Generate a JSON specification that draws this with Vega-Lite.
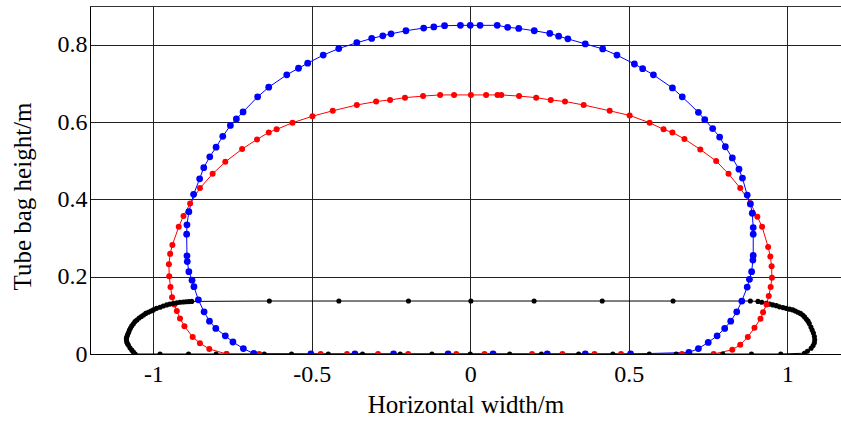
{
  "$schema": "https://vega.github.io/schema/vega-lite/v6.json",
  "width": 751,
  "height": 348,
  "padding": {"left": 90, "top": 6, "right": 0, "bottom": 67},
  "autosize": {"type": "none"},
  "background": "white",
  "config": {
    "view": {"stroke": "#333", "strokeWidth": 1},
    "axis": {
      "labelFont": "Liberation Serif",
      "titleFont": "Liberation Serif",
      "labelFontSize": 24,
      "titleFontSize": 25,
      "titleFontWeight": "normal",
      "labelColor": "#000",
      "titleColor": "#000",
      "domainColor": "#000",
      "gridColor": "#222",
      "gridWidth": 1,
      "gridOpacity": 1,
      "ticks": false
    }
  },
  "data": {"values": [
    {"s":"black","i":1,"x":-1.058,"y":0},
    {"s":"black","i":2,"x":-0.979,"y":0},
    {"s":"black","i":3,"x":-0.889,"y":0},
    {"s":"black","i":4,"x":-0.802,"y":0},
    {"s":"black","i":5,"x":-0.650,"y":0},
    {"s":"black","i":6,"x":-0.564,"y":0},
    {"s":"black","i":7,"x":-0.448,"y":0},
    {"s":"black","i":8,"x":-0.340,"y":0},
    {"s":"black","i":9,"x":-0.221,"y":0},
    {"s":"black","i":10,"x":-0.121,"y":0},
    {"s":"black","i":11,"x":0.0,"y":0},
    {"s":"black","i":12,"x":0.1245,"y":0},
    {"s":"black","i":13,"x":0.2245,"y":0},
    {"s":"black","i":14,"x":0.342,"y":0},
    {"s":"black","i":15,"x":0.450,"y":0},
    {"s":"black","i":16,"x":0.565,"y":0},
    {"s":"black","i":17,"x":0.650,"y":0},
    {"s":"black","i":18,"x":0.797,"y":0},
    {"s":"black","i":19,"x":0.8875,"y":0},
    {"s":"black","i":20,"x":0.980,"y":0},
    {"s":"black","i":21,"x":1.0545,"y":0.002},
    {"s":"black","i":22,"x":1.064,"y":0.007},
    {"s":"black","i":23,"x":1.0757,"y":0.0147},
    {"s":"black","i":24,"x":1.082,"y":0.022},
    {"s":"black","i":25,"x":1.086,"y":0.029},
    {"s":"black","i":26,"x":1.087,"y":0.037},
    {"s":"black","i":27,"x":1.086,"y":0.045},
    {"s":"black","i":28,"x":1.083,"y":0.054},
    {"s":"black","i":29,"x":1.079,"y":0.062},
    {"s":"black","i":30,"x":1.075,"y":0.070},
    {"s":"black","i":31,"x":1.070,"y":0.079},
    {"s":"black","i":32,"x":1.066,"y":0.085},
    {"s":"black","i":33,"x":1.061,"y":0.090},
    {"s":"black","i":34,"x":1.055,"y":0.096},
    {"s":"black","i":35,"x":1.049,"y":0.101},
    {"s":"black","i":36,"x":1.042,"y":0.105},
    {"s":"black","i":37,"x":1.034,"y":0.108},
    {"s":"black","i":38,"x":1.026,"y":0.111},
    {"s":"black","i":39,"x":1.018,"y":0.114},
    {"s":"black","i":40,"x":1.008,"y":0.116},
    {"s":"black","i":41,"x":0.997,"y":0.118},
    {"s":"black","i":42,"x":0.987,"y":0.120},
    {"s":"black","i":43,"x":0.976,"y":0.122},
    {"s":"black","i":44,"x":0.966,"y":0.125},
    {"s":"black","i":45,"x":0.955,"y":0.127},
    {"s":"black","i":46,"x":0.945,"y":0.129},
    {"s":"black","i":47,"x":0.934,"y":0.131},
    {"s":"black","i":48,"x":0.920,"y":0.134},
    {"s":"black","i":49,"x":0.908,"y":0.136},
    {"s":"black","i":50,"x":0.884,"y":0.137},
    {"s":"black","i":51,"x":0.640,"y":0.137},
    {"s":"black","i":52,"x":0.4165,"y":0.137},
    {"s":"black","i":53,"x":0.2015,"y":0.137},
    {"s":"black","i":54,"x":0.002,"y":0.137},
    {"s":"black","i":55,"x":-0.195,"y":0.137},
    {"s":"black","i":56,"x":-0.4146,"y":0.137},
    {"s":"black","i":57,"x":-0.634,"y":0.137},
    {"s":"black","i":58,"x":-0.879,"y":0.136},
    {"s":"black","i":59,"x":-0.888,"y":0.1355},
    {"s":"black","i":60,"x":-0.897,"y":0.135},
    {"s":"black","i":61,"x":-0.906,"y":0.1345},
    {"s":"black","i":62,"x":-0.916,"y":0.134},
    {"s":"black","i":63,"x":-0.926,"y":0.1325},
    {"s":"black","i":64,"x":-0.937,"y":0.131},
    {"s":"black","i":65,"x":-0.948,"y":0.129},
    {"s":"black","i":66,"x":-0.958,"y":0.127},
    {"s":"black","i":67,"x":-0.969,"y":0.124},
    {"s":"black","i":68,"x":-0.979,"y":0.121},
    {"s":"black","i":69,"x":-0.990,"y":0.118},
    {"s":"black","i":70,"x":-1.0,"y":0.114},
    {"s":"black","i":71,"x":-1.008,"y":0.111},
    {"s":"black","i":72,"x":-1.016,"y":0.108},
    {"s":"black","i":73,"x":-1.024,"y":0.105},
    {"s":"black","i":74,"x":-1.031,"y":0.101},
    {"s":"black","i":75,"x":-1.038,"y":0.097},
    {"s":"black","i":76,"x":-1.045,"y":0.093},
    {"s":"black","i":77,"x":-1.052,"y":0.088},
    {"s":"black","i":78,"x":-1.058,"y":0.084},
    {"s":"black","i":79,"x":-1.063,"y":0.078},
    {"s":"black","i":80,"x":-1.068,"y":0.073},
    {"s":"black","i":81,"x":-1.072,"y":0.067},
    {"s":"black","i":82,"x":-1.0755,"y":0.062},
    {"s":"black","i":83,"x":-1.078,"y":0.056},
    {"s":"black","i":84,"x":-1.081,"y":0.051},
    {"s":"black","i":85,"x":-1.083,"y":0.046},
    {"s":"black","i":86,"x":-1.085,"y":0.041},
    {"s":"black","i":87,"x":-1.085,"y":0.036},
    {"s":"black","i":88,"x":-1.084,"y":0.031},
    {"s":"black","i":89,"x":-1.082,"y":0.027},
    {"s":"black","i":90,"x":-1.079,"y":0.023},
    {"s":"black","i":91,"x":-1.074,"y":0.016},
    {"s":"black","i":92,"x":-1.068,"y":0.010},
    {"s":"black","i":93,"x":-1.063,"y":0.005},
    {"s":"black","i":94,"x":-1.058,"y":0},

    {"s":"red","i":1,"x":-0.769,"y":0},
    {"s":"red","i":2,"x":-0.8235,"y":0.013},
    {"s":"red","i":3,"x":-0.853,"y":0.028},
    {"s":"red","i":4,"x":-0.876,"y":0.044},
    {"s":"red","i":5,"x":-0.902,"y":0.072},
    {"s":"red","i":6,"x":-0.916,"y":0.092},
    {"s":"red","i":7,"x":-0.926,"y":0.111},
    {"s":"red","i":8,"x":-0.934,"y":0.128},
    {"s":"red","i":9,"x":-0.941,"y":0.147},
    {"s":"red","i":10,"x":-0.946,"y":0.173},
    {"s":"red","i":11,"x":-0.950,"y":0.201},
    {"s":"red","i":12,"x":-0.951,"y":0.232},
    {"s":"red","i":13,"x":-0.947,"y":0.259},
    {"s":"red","i":14,"x":-0.940,"y":0.282},
    {"s":"red","i":15,"x":-0.920,"y":0.329},
    {"s":"red","i":16,"x":-0.905,"y":0.357},
    {"s":"red","i":17,"x":-0.884,"y":0.389},
    {"s":"red","i":18,"x":-0.853,"y":0.429},
    {"s":"red","i":19,"x":-0.813,"y":0.466},
    {"s":"red","i":20,"x":-0.773,"y":0.497},
    {"s":"red","i":21,"x":-0.720,"y":0.530},
    {"s":"red","i":22,"x":-0.673,"y":0.555},
    {"s":"red","i":23,"x":-0.636,"y":0.573},
    {"s":"red","i":24,"x":-0.611,"y":0.581},
    {"s":"red","i":25,"x":-0.561,"y":0.598},
    {"s":"red","i":26,"x":-0.498,"y":0.615},
    {"s":"red","i":27,"x":-0.434,"y":0.629},
    {"s":"red","i":28,"x":-0.358,"y":0.644},
    {"s":"red","i":29,"x":-0.297,"y":0.653},
    {"s":"red","i":30,"x":-0.253,"y":0.657},
    {"s":"red","i":31,"x":-0.206,"y":0.663},
    {"s":"red","i":32,"x":-0.149,"y":0.667},
    {"s":"red","i":33,"x":-0.095,"y":0.670},
    {"s":"red","i":34,"x":-0.051,"y":0.670},
    {"s":"red","i":35,"x":0.002,"y":0.670},
    {"s":"red","i":36,"x":0.050,"y":0.670},
    {"s":"red","i":37,"x":0.086,"y":0.670},
    {"s":"red","i":38,"x":0.098,"y":0.670},
    {"s":"red","i":39,"x":0.154,"y":0.667},
    {"s":"red","i":40,"x":0.208,"y":0.663},
    {"s":"red","i":41,"x":0.254,"y":0.657},
    {"s":"red","i":42,"x":0.299,"y":0.653},
    {"s":"red","i":43,"x":0.358,"y":0.644},
    {"s":"red","i":44,"x":0.440,"y":0.629},
    {"s":"red","i":45,"x":0.503,"y":0.617},
    {"s":"red","i":46,"x":0.566,"y":0.598},
    {"s":"red","i":47,"x":0.610,"y":0.581},
    {"s":"red","i":48,"x":0.638,"y":0.573},
    {"s":"red","i":49,"x":0.676,"y":0.556},
    {"s":"red","i":50,"x":0.726,"y":0.529},
    {"s":"red","i":51,"x":0.776,"y":0.499},
    {"s":"red","i":52,"x":0.815,"y":0.466},
    {"s":"red","i":53,"x":0.852,"y":0.429},
    {"s":"red","i":54,"x":0.884,"y":0.390},
    {"s":"red","i":55,"x":0.906,"y":0.355},
    {"s":"red","i":56,"x":0.921,"y":0.329},
    {"s":"red","i":57,"x":0.940,"y":0.277},
    {"s":"red","i":58,"x":0.947,"y":0.252},
    {"s":"red","i":59,"x":0.951,"y":0.227},
    {"s":"red","i":60,"x":0.952,"y":0.197},
    {"s":"red","i":61,"x":0.948,"y":0.173},
    {"s":"red","i":62,"x":0.942,"y":0.150},
    {"s":"red","i":63,"x":0.935,"y":0.128},
    {"s":"red","i":64,"x":0.924,"y":0.108},
    {"s":"red","i":65,"x":0.916,"y":0.091},
    {"s":"red","i":66,"x":0.897,"y":0.068},
    {"s":"red","i":67,"x":0.876,"y":0.044},
    {"s":"red","i":68,"x":0.852,"y":0.024},
    {"s":"red","i":69,"x":0.827,"y":0.011},
    {"s":"red","i":70,"x":0.768,"y":0},
    {"s":"red","i":71,"x":0.668,"y":0},
    {"s":"red","i":72,"x":0.476,"y":0},
    {"s":"red","i":73,"x":0.392,"y":0},
    {"s":"red","i":74,"x":0.291,"y":0},
    {"s":"red","i":75,"x":0.195,"y":0},
    {"s":"red","i":76,"x":0.045,"y":0},
    {"s":"red","i":77,"x":-0.044,"y":0},
    {"s":"red","i":78,"x":-0.196,"y":0},
    {"s":"red","i":79,"x":-0.291,"y":0},
    {"s":"red","i":80,"x":-0.389,"y":0},
    {"s":"red","i":81,"x":-0.472,"y":0},
    {"s":"red","i":82,"x":-0.666,"y":0},
    {"s":"red","i":83,"x":-0.769,"y":0},

    {"s":"blue","i":1,"x":-0.683,"y":0.001},
    {"s":"blue","i":2,"x":-0.716,"y":0.014},
    {"s":"blue","i":3,"x":-0.749,"y":0.031},
    {"s":"blue","i":4,"x":-0.773,"y":0.047},
    {"s":"blue","i":5,"x":-0.803,"y":0.066},
    {"s":"blue","i":6,"x":-0.823,"y":0.085},
    {"s":"blue","i":7,"x":-0.840,"y":0.109},
    {"s":"blue","i":8,"x":-0.858,"y":0.140},
    {"s":"blue","i":9,"x":-0.872,"y":0.174},
    {"s":"blue","i":10,"x":-0.878,"y":0.191},
    {"s":"blue","i":11,"x":-0.888,"y":0.213},
    {"s":"blue","i":12,"x":-0.893,"y":0.239},
    {"s":"blue","i":13,"x":-0.894,"y":0.254},
    {"s":"blue","i":14,"x":-0.895,"y":0.310},
    {"s":"blue","i":15,"x":-0.894,"y":0.334},
    {"s":"blue","i":16,"x":-0.888,"y":0.368},
    {"s":"blue","i":17,"x":-0.873,"y":0.413},
    {"s":"blue","i":18,"x":-0.854,"y":0.453},
    {"s":"blue","i":19,"x":-0.841,"y":0.482},
    {"s":"blue","i":20,"x":-0.822,"y":0.510},
    {"s":"blue","i":21,"x":-0.802,"y":0.535},
    {"s":"blue","i":22,"x":-0.781,"y":0.563},
    {"s":"blue","i":23,"x":-0.757,"y":0.591},
    {"s":"blue","i":24,"x":-0.738,"y":0.608},
    {"s":"blue","i":25,"x":-0.717,"y":0.626},
    {"s":"blue","i":26,"x":-0.671,"y":0.665},
    {"s":"blue","i":27,"x":-0.636,"y":0.690},
    {"s":"blue","i":28,"x":-0.579,"y":0.722},
    {"s":"blue","i":29,"x":-0.542,"y":0.739},
    {"s":"blue","i":30,"x":-0.513,"y":0.752},
    {"s":"blue","i":31,"x":-0.464,"y":0.773},
    {"s":"blue","i":32,"x":-0.415,"y":0.790},
    {"s":"blue","i":33,"x":-0.358,"y":0.805},
    {"s":"blue","i":34,"x":-0.311,"y":0.816},
    {"s":"blue","i":35,"x":-0.276,"y":0.823},
    {"s":"blue","i":36,"x":-0.250,"y":0.828},
    {"s":"blue","i":37,"x":-0.203,"y":0.836},
    {"s":"blue","i":38,"x":-0.147,"y":0.843},
    {"s":"blue","i":39,"x":-0.115,"y":0.846},
    {"s":"blue","i":40,"x":-0.081,"y":0.849},
    {"s":"blue","i":41,"x":-0.031,"y":0.850},
    {"s":"blue","i":42,"x":0.000,"y":0.850},
    {"s":"blue","i":43,"x":0.031,"y":0.850},
    {"s":"blue","i":44,"x":0.085,"y":0.850},
    {"s":"blue","i":45,"x":0.118,"y":0.845},
    {"s":"blue","i":46,"x":0.153,"y":0.842},
    {"s":"blue","i":47,"x":0.202,"y":0.836},
    {"s":"blue","i":48,"x":0.251,"y":0.829},
    {"s":"blue","i":49,"x":0.279,"y":0.822},
    {"s":"blue","i":50,"x":0.308,"y":0.815},
    {"s":"blue","i":51,"x":0.363,"y":0.802},
    {"s":"blue","i":52,"x":0.418,"y":0.789},
    {"s":"blue","i":53,"x":0.463,"y":0.773},
    {"s":"blue","i":54,"x":0.518,"y":0.750},
    {"s":"blue","i":55,"x":0.544,"y":0.738},
    {"s":"blue","i":56,"x":0.578,"y":0.722},
    {"s":"blue","i":57,"x":0.638,"y":0.688},
    {"s":"blue","i":58,"x":0.669,"y":0.665},
    {"s":"blue","i":59,"x":0.720,"y":0.625},
    {"s":"blue","i":60,"x":0.740,"y":0.606},
    {"s":"blue","i":61,"x":0.765,"y":0.583},
    {"s":"blue","i":62,"x":0.787,"y":0.561},
    {"s":"blue","i":63,"x":0.805,"y":0.536},
    {"s":"blue","i":64,"x":0.827,"y":0.507},
    {"s":"blue","i":65,"x":0.848,"y":0.478},
    {"s":"blue","i":66,"x":0.859,"y":0.455},
    {"s":"blue","i":67,"x":0.874,"y":0.411},
    {"s":"blue","i":68,"x":0.884,"y":0.388},
    {"s":"blue","i":69,"x":0.890,"y":0.364},
    {"s":"blue","i":70,"x":0.893,"y":0.327},
    {"s":"blue","i":71,"x":0.893,"y":0.310},
    {"s":"blue","i":72,"x":0.893,"y":0.255},
    {"s":"blue","i":73,"x":0.892,"y":0.243},
    {"s":"blue","i":74,"x":0.888,"y":0.213},
    {"s":"blue","i":75,"x":0.881,"y":0.193},
    {"s":"blue","i":76,"x":0.874,"y":0.173},
    {"s":"blue","i":77,"x":0.857,"y":0.137},
    {"s":"blue","i":78,"x":0.841,"y":0.109},
    {"s":"blue","i":79,"x":0.822,"y":0.085},
    {"s":"blue","i":80,"x":0.803,"y":0.066},
    {"s":"blue","i":81,"x":0.779,"y":0.047},
    {"s":"blue","i":82,"x":0.751,"y":0.030},
    {"s":"blue","i":83,"x":0.720,"y":0.014},
    {"s":"blue","i":84,"x":0.690,"y":0.004},
    {"s":"blue","i":85,"x":0.506,"y":0},
    {"s":"blue","i":86,"x":0.363,"y":0},
    {"s":"blue","i":87,"x":0.243,"y":0},
    {"s":"blue","i":88,"x":0.072,"y":0},
    {"s":"blue","i":89,"x":-0.070,"y":0},
    {"s":"blue","i":90,"x":-0.242,"y":0},
    {"s":"blue","i":91,"x":-0.364,"y":0},
    {"s":"blue","i":92,"x":-0.503,"y":0},
    {"s":"blue","i":93,"x":-0.683,"y":0.001}
  ]},
  "encoding": {
    "x": {
      "field": "x", "type": "quantitative",
      "scale": {"domain": [-1.2, 1.17], "nice": false, "zero": false},
      "axis": {"values": [-1, -0.5, 0, 0.5, 1], "labelExpr": "'' + datum.value", "title": "Horizontal width/m", "labelPadding": 8, "titlePadding": 6, "grid": true}
    },
    "y": {
      "field": "y", "type": "quantitative",
      "scale": {"domain": [0, 0.9], "nice": false},
      "axis": {"values": [0, 0.2, 0.4, 0.6, 0.8], "labelExpr": "'' + datum.value", "title": "Tube bag height/m", "labelPadding": 3, "titlePadding": 22, "titleY": 190, "grid": true}
    },
    "color": {
      "field": "s", "type": "nominal",
      "scale": {"domain": ["black", "red", "blue"], "range": ["#000000", "#ff0000", "#0000ff"]},
      "legend": null
    },
    "order": {"field": "i", "type": "quantitative"}
  },
  "layer": [
    {"mark": {"type": "line", "strokeWidth": 1, "clip": true}},
    {
      "mark": {"type": "point", "filled": true, "opacity": 1, "clip": true},
      "encoding": {
        "size": {"field": "s", "type": "nominal", "scale": {"domain": ["black", "red", "blue"], "range": [26, 46, 46]}, "legend": null}
      }
    }
  ]
}
